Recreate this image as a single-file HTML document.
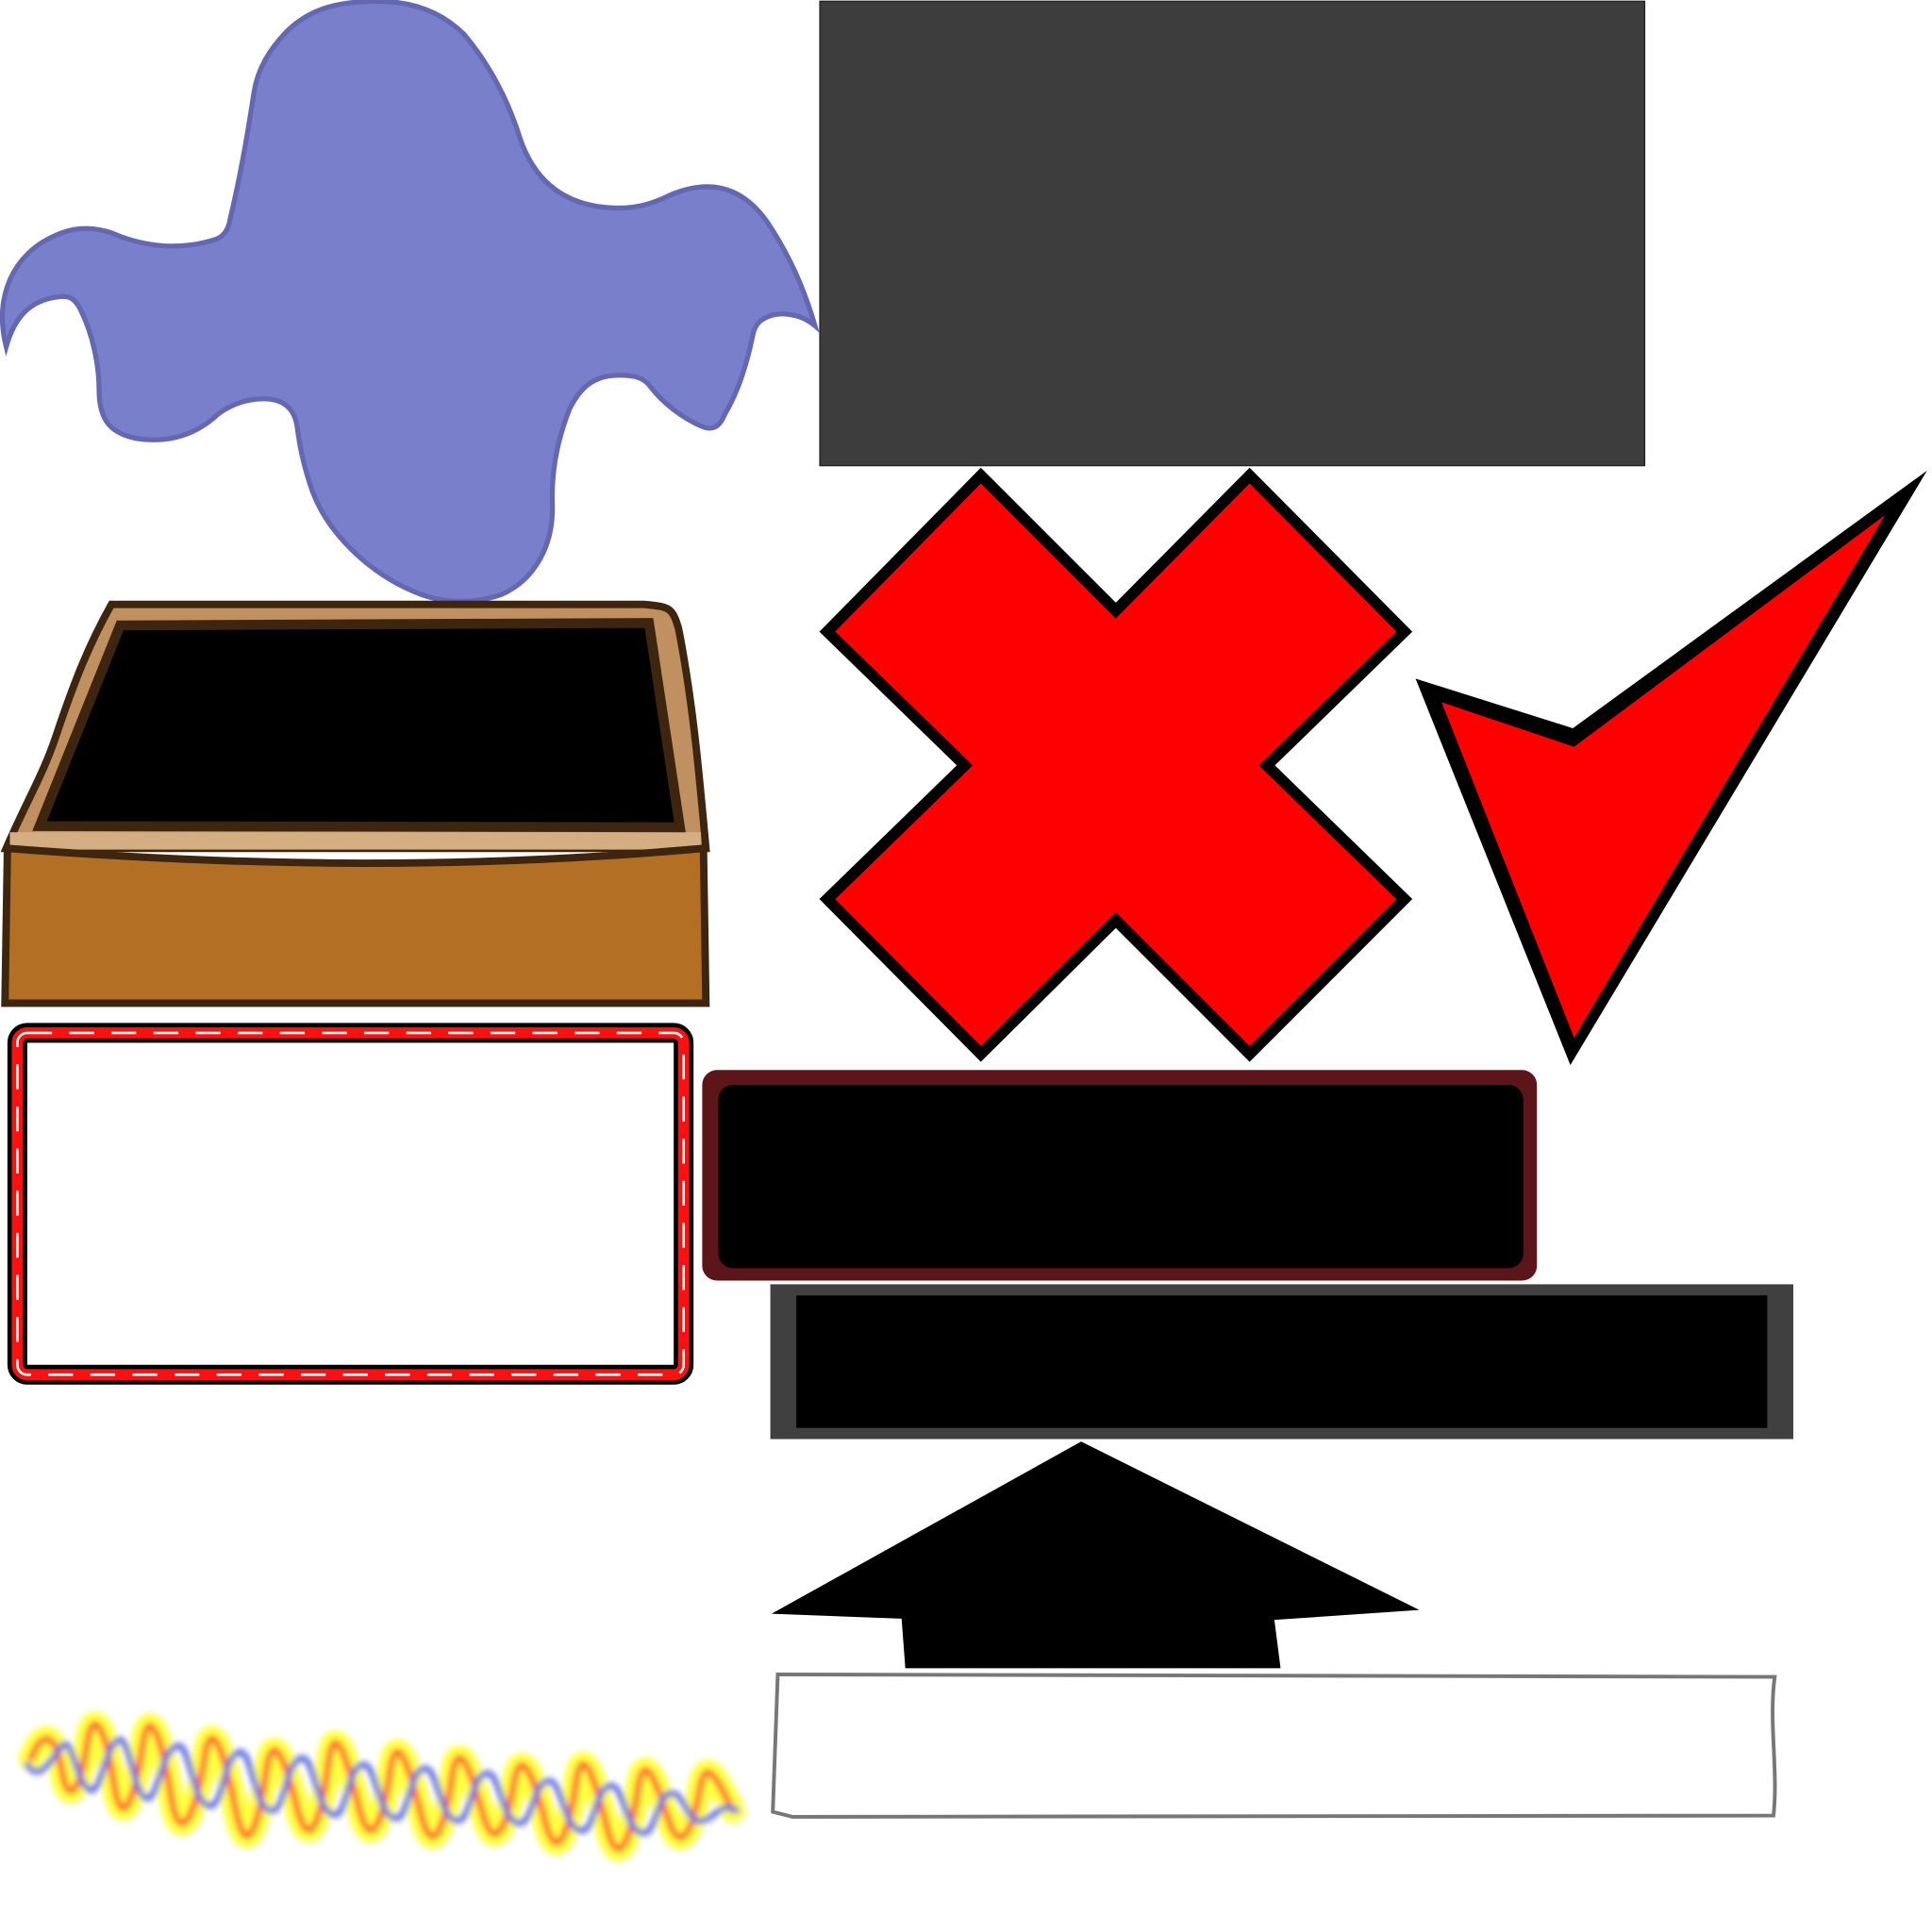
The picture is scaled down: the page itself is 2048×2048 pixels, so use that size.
<!DOCTYPE html>
<html><head><meta charset="utf-8"><style>html,body{margin:0;padding:0;background:#fff}svg{display:block}</style></head>
<body>
<svg width="2048" height="2048" viewBox="0 0 1560 1560" xmlns="http://www.w3.org/2000/svg">
<defs>
<filter id="bl" x="-10%" y="-30%" width="120%" height="160%"><feGaussianBlur stdDeviation="2.5"/></filter>
</defs>
<path d="M5,280 C-5,240 10,205 45,190 C60,183 75,183 90,188 C115,199 145,203 175,193 C182,190 185,183 186,176 C194,143 200,108 205,75 C208,55 218,40 230,27 C250,6 275,1 305,1 C330,1 355,8 375,28 C395,52 410,80 420,112 C433,150 460,168 500,168 C515,168 528,164 540,158 C570,145 598,148 620,180 C638,207 650,235 658,263 C645,252 625,250 613,260 C611,262 609,265 608,270 C603,295 595,318 585,335 C581,345 575,348 566,344 C550,337 535,325 525,312 C520,305 513,303 500,303 C482,303 470,310 460,330 C450,355 445,380 446,408 C447,440 432,468 405,480 C385,487 362,488 340,480 C300,465 262,430 250,390 C244,371 242,360 240,345 C238,330 229,322 213,322 C195,322 180,330 172,338 C155,352 135,358 110,354 C90,350 80,340 80,315 C80,295 75,270 65,250 C60,240 55,238 45,240 C25,243 12,255 5,280 Z" fill="#7a7fcc" stroke="#6468b0" stroke-width="4"/>
<rect x="662" y="1" width="666" height="375" fill="#3d3d3d" stroke="#222" stroke-width="1"/>
<polygon points="792,384 901,493 1009,384 1134,510 1023,618 1134,726 1009,851 901,743 792,851 668,726 779,618 668,510" fill="#ff0000" stroke="#000" stroke-width="9"/>
<polygon points="1556,380 1270,588 1143,548 1268,860" fill="#000"/>
<polygon points="1522,416 1271,603 1164,567 1271,838" fill="#ff0000"/>
<path d="M5,685 C20,650 35,625 45,595 C60,550 72,520 90,488 L520,488 C540,490 543,490 548,508 C560,570 565,630 570,685 Z" fill="#c09060" stroke="#3d2510" stroke-width="6"/>
<rect x="8" y="672" width="558" height="14" fill="#d4ae80"/>
<polygon points="97,505 524,503 549,668 32,667" fill="#000" stroke="#3d2510" stroke-width="8"/>
<path d="M6,685 C200,700 380,702 568,685 L570,810 L4,810 Z" fill="#b37024" stroke="#3d2510" stroke-width="6"/>
<rect x="14" y="834" width="538" height="276" rx="8" fill="none" stroke="#000" stroke-width="16"/>
<rect x="14" y="834" width="538" height="276" rx="8" fill="none" stroke="#ff1010" stroke-width="9"/>
<rect x="14" y="834" width="538" height="276" rx="8" fill="none" stroke="#fff" stroke-width="2" stroke-dasharray="20 14"/>
<rect x="567" y="864" width="674" height="170" rx="12" fill="#5c1518"/>
<rect x="580" y="876" width="650" height="148" rx="12" fill="#000"/>
<rect x="622" y="1037" width="826" height="125" fill="#404040"/>
<rect x="643" y="1046" width="784" height="107" fill="#000"/>
<polygon points="873,1164 1146,1300 1029,1308 1034,1347 731,1347 728,1307 623,1303" fill="#000"/>
<path d="M628,1352 L1433,1354 C1428,1390 1436,1430 1432,1466 L640,1467 L624,1463 Z" fill="#fff" stroke="#777" stroke-width="3"/>
<g filter="url(#bl)" fill="none" stroke-linecap="round">
<path d="M25,1420 C35,1395 45,1400 50,1430 S65,1445 70,1410 S85,1395 92,1440 S110,1445 115,1410 S130,1400 138,1450 S160,1455 165,1420 S180,1410 190,1460 S210,1465 215,1430 S230,1420 240,1460 S260,1465 265,1425 S280,1420 290,1460 S310,1465 315,1430 S330,1425 340,1465 S360,1470 365,1435 S380,1430 390,1465 S410,1470 415,1440 S430,1430 440,1470 S460,1475 465,1440 S480,1435 490,1475 S510,1480 515,1445 S530,1440 540,1470 S560,1475 565,1445 S580,1440 592,1462" stroke="#ffff40" stroke-width="20"/>
<path d="M25,1420 C35,1395 45,1400 50,1430 S65,1445 70,1410 S85,1395 92,1440 S110,1445 115,1410 S130,1400 138,1450 S160,1455 165,1420 S180,1410 190,1460 S210,1465 215,1430 S230,1420 240,1460 S260,1465 265,1425 S280,1420 290,1460 S310,1465 315,1430 S330,1425 340,1465 S360,1470 365,1435 S380,1430 390,1465 S410,1470 415,1440 S430,1430 440,1470 S460,1475 465,1440 S480,1435 490,1475 S510,1480 515,1445 S530,1440 540,1470 S560,1475 565,1445 S580,1440 592,1462" stroke="#ff5030" stroke-width="5"/>
<path d="M22,1425 C32,1440 42,1420 50,1410 S62,1440 72,1445 S85,1410 95,1405 S108,1450 118,1452 S130,1415 142,1410 S155,1455 168,1458 S180,1420 192,1415 S205,1460 218,1462 S230,1425 242,1420 S255,1460 268,1465 S280,1428 292,1425 S305,1465 318,1468 S330,1430 342,1428 S355,1468 368,1470 S380,1435 392,1432 S405,1470 418,1472 S430,1440 442,1438 S455,1475 468,1478 S480,1445 492,1442 S505,1478 518,1480 S530,1448 542,1448 S555,1475 568,1470 S582,1455 595,1462" stroke="#6070e0" stroke-width="5"/>
</g>
</svg>
</body></html>
